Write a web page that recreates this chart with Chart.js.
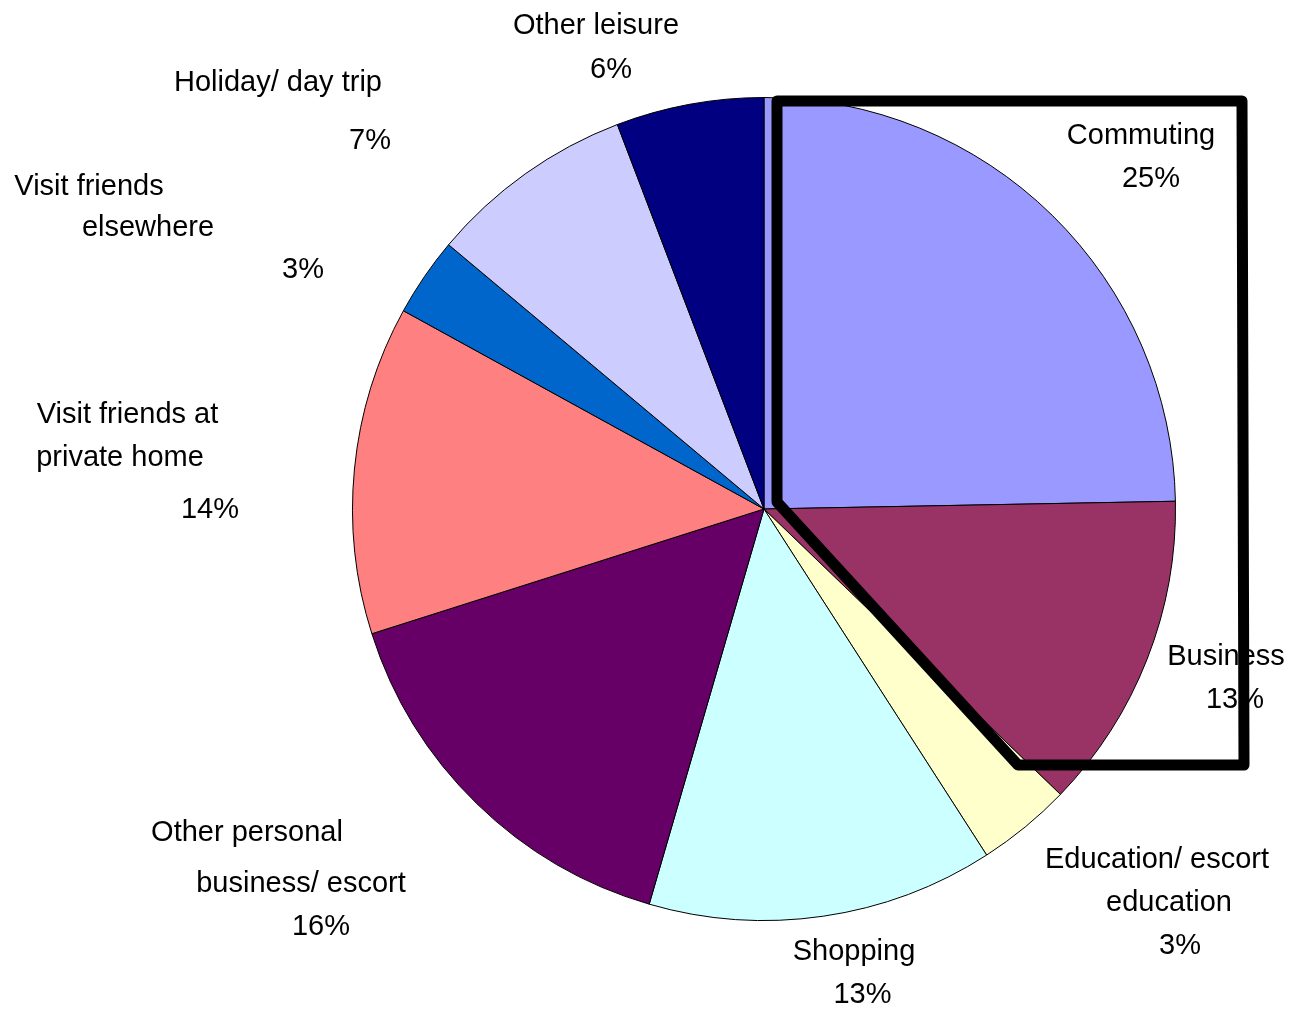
<!DOCTYPE html>
<html>
<head>
<meta charset="utf-8">
<script src="https://cdn.jsdelivr.net/npm/chart.js@4.4.1/dist/chart.umd.min.js"></script>
<style>
html,body{margin:0;padding:0;background:#ffffff;}
canvas{display:block;}
</style>
</head>
<body>
<canvas id="c" width="1292" height="1009"></canvas>
<script>
// ---- data ----
const categories = [
  "Commuting",
  "Business",
  "Education/ escort education",
  "Shopping",
  "Other personal business/ escort",
  "Visit friends at private home",
  "Visit friends elsewhere",
  "Holiday/ day trip",
  "Other leisure"
];
const shares = [24.7, 12.5, 3.7, 13.6, 15.6, 12.9, 3.1, 8.1, 5.8];
const percentLabels = ["25%", "13%", "3%", "13%", "16%", "14%", "3%", "7%", "6%"];
const labelLines = [
  ["Commuting"],
  ["Business"],
  ["Education/ escort", "education"],
  ["Shopping"],
  ["Other personal", "business/ escort"],
  ["Visit friends at", "private home"],
  ["Visit friends", "elsewhere"],
  ["Holiday/ day trip"],
  ["Other leisure"]
];

// ---- styles / layout (kept apart from data) ----
const sliceColors = ["#9999FF", "#993366", "#FFFFCC", "#CCFFFF", "#660066", "#FF8080", "#0066CC", "#CCCCFF", "#000080"];
// text line centres relative to the pie centre (name lines, then percent line)
const labelOffsets = [
  [[377, -375], [387, -332]],
  [[462, 146], [471, 189]],
  [[393, 349], [405, 392], [416, 435]],
  [[90, 441], [98.5, 484]],
  [[-517, 322], [-463, 373], [-443, 416]],
  [[-636.5, -96], [-644, -53], [-554, -1]],
  [[-675, -324], [-616, -283], [-461, -241]],
  [[-486, -428], [-394, -370]],
  [[-168, -485], [-153, -441]]
];
const labelShiftY = 2;
// highlight outline around the commuting/business area, relative to pie centre
const highlightPath = [[13, -408], [478, -408], [480, 256], [254, 256], [13, -7]];

const labelPlugin = {
  id: 'outsideLabels',
  afterDatasetsDraw(chart) {
    const ctx = chart.ctx;
    const arc = chart.getDatasetMeta(0).data[0];
    const cx = arc.x, cy = arc.y;
    ctx.save();
    ctx.fillStyle = '#000000';
    ctx.font = '29px "Liberation Sans", Arial, sans-serif';
    ctx.textAlign = 'center';
    ctx.textBaseline = 'middle';
    labelLines.forEach((lines, i) => {
      const all = lines.concat([percentLabels[i]]);
      all.forEach((t, j) => {
        const o = labelOffsets[i][j];
        ctx.fillText(t, cx + o[0], cy + o[1] + labelShiftY);
      });
    });
    // highlight outline
    ctx.beginPath();
    highlightPath.forEach((p, k) => {
      if (k === 0) ctx.moveTo(cx + p[0], cy + p[1]);
      else ctx.lineTo(cx + p[0], cy + p[1]);
    });
    ctx.closePath();
    ctx.lineWidth = 11;
    ctx.lineJoin = 'round';
    ctx.strokeStyle = '#000000';
    ctx.stroke();
    ctx.restore();
  }
};

new Chart(document.getElementById('c'), {
  type: 'pie',
  data: {
    labels: categories,
    datasets: [{
      data: shares,
      backgroundColor: sliceColors,
      borderColor: '#000000',
      borderWidth: 1
    }]
  },
  options: {
    responsive: false,
    animation: false,
    layout: { padding: { left: 352, right: 116, top: 97, bottom: 88 } },
    plugins: {
      legend: { display: false },
      tooltip: { enabled: false }
    }
  },
  plugins: [labelPlugin]
});
</script>
</body>
</html>
